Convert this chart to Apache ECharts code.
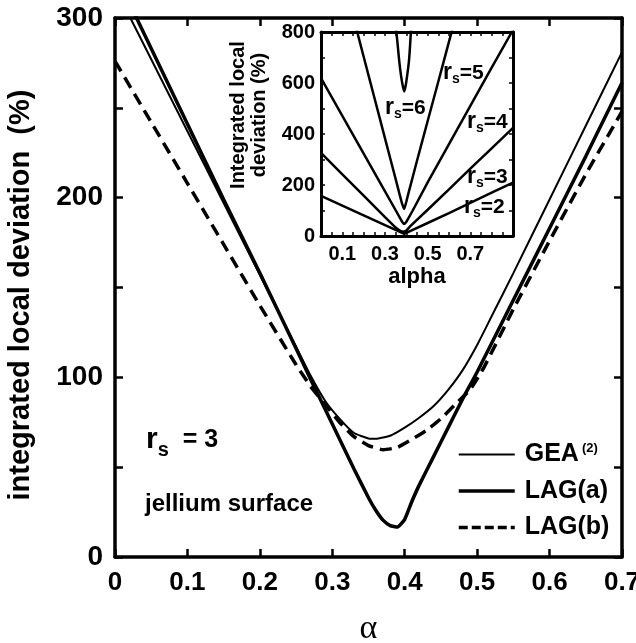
<!DOCTYPE html>
<html>
<head>
<meta charset="utf-8">
<script src="https://cdn.jsdelivr.net/npm/echarts@6/dist/echarts.min.js"></script>
<style>
html,body{margin:0;padding:0;background:#fff;}
#chart{width:636px;height:643px;}
</style>
</head>
<body>
<div id="chart"></div>
<script>
// ---- main panel data (alpha vs integrated local deviation, %) ----
const alphaGEA = [0, 0.05, 0.1, 0.15, 0.2, 0.25, 0.27, 0.29, 0.31, 0.33, 0.35, 0.36, 0.38, 0.40, 0.42, 0.44, 0.46, 0.48, 0.50, 0.52, 0.55, 0.60, 0.65, 0.70];
const valGEA   = [317, 277, 237, 197, 157, 117, 101, 87, 77, 69, 66, 65.8, 67.5, 72, 77.5, 84, 93, 104, 118, 134, 158, 199, 240, 281];

const alphaLAGa = [0, 0.05, 0.1, 0.15, 0.2, 0.25, 0.27, 0.30, 0.33, 0.35, 0.36, 0.37, 0.38, 0.39, 0.40, 0.41, 0.42, 0.44, 0.46, 0.48, 0.50, 0.55, 0.60, 0.65, 0.70];
const valLAGa   = [325, 283, 241, 199, 158, 116, 99, 74, 49, 33, 26, 20.5, 17.5, 16.7, 21, 31, 40, 56, 72, 88, 103, 143, 183, 223, 264];

const alphaLAGb = [0, 0.05, 0.1, 0.15, 0.2, 0.25, 0.27, 0.29, 0.31, 0.33, 0.35, 0.37, 0.39, 0.41, 0.43, 0.45, 0.47, 0.49, 0.51, 0.55, 0.60, 0.65, 0.70];
const valLAGb   = [276, 242, 208, 174, 140, 107, 95, 85, 75, 67, 62, 59.7, 61, 65.5, 70.5, 77, 85, 93, 106, 138, 176, 213, 248];

const seriesNames = ['GEA(2)', 'LAG(a)', 'LAG(b)'];

// ---- inset data (alpha vs integrated local deviation, %) for r_s = 2..6 ----
const alphaRs2 = [0, 0.1, 0.2, 0.3, 0.36, 0.38, 0.39, 0.40, 0.42, 0.5, 0.6, 0.7, 0.8, 0.9];
const valRs2   = [157, 119, 81, 43, 20, 12, 9, 12, 20, 51, 90, 130, 170, 209];
const alphaRs3 = [0, 0.1, 0.2, 0.3, 0.35, 0.37, 0.38, 0.39, 0.40, 0.42, 0.5, 0.6, 0.7, 0.8, 0.9];
const valRs3   = [326, 242, 158, 74, 33, 21, 17.5, 17, 21, 40, 103, 183, 264, 344, 424];
const alphaRs4 = [0, 0.1, 0.2, 0.3, 0.35, 0.37, 0.38, 0.39, 0.40, 0.41, 0.43, 0.5, 0.6, 0.7, 0.8, 0.9];
const valRs4   = [619, 471, 323, 175, 101, 71, 56, 46, 55, 70, 100, 210, 360, 510, 660, 808];
const alphaRs5 = [0.15, 0.171, 0.2, 0.25, 0.3, 0.35, 0.37, 0.38, 0.39, 0.40, 0.41, 0.45, 0.5, 0.55, 0.6, 0.63];
const valRs5   = [865, 796, 703, 543, 383, 223, 158, 127, 106, 135, 168, 295, 451, 606, 762, 855];
const alphaRs6 = [0.345, 0.354, 0.36, 0.367, 0.375, 0.383, 0.39, 0.397, 0.404, 0.412, 0.417, 0.421, 0.428];
const valRs6   = [880, 796, 745, 684, 630, 590, 567, 590, 630, 684, 740, 796, 880];

// tick labels
const mainXLabels = ['0', '0.1', '0.2', '0.3', '0.4', '0.5', '0.6', '0.7'];
const mainYLabels = ['0', '100', '200', '300'];
const insetXLabels = ['0.1', '0.3', '0.5', '0.7'];
const insetYLabels = ['0', '200', '400', '600', '800'];

const zip = (xs, ys) => xs.map((x, i) => [x, ys[i]]);
const FONT = '"Liberation Sans", Arial, Helvetica, sans-serif';

const chart = echarts.init(document.getElementById('chart'), null, {renderer: 'canvas'});

function frameAxis(base) {
  return Object.assign({
    type: 'value',
    axisLine: {show: true, onZero: false, lineStyle: {color: '#000', width: 3.5}},
    axisTick: {show: true, inside: true, length: 8, lineStyle: {color: '#000', width: 2.5}},
    splitLine: {show: false},
  }, base);
}

function rsLabel(x, y, n, rSize, sSize, tSize, sDrop) {
  const rW = rSize * 0.389, sW = sSize * 0.556;
  return [
    {type: 'text', x: x, y: y, style: {text: 'r', fontSize: rSize, fontWeight: 'bold', fontFamily: FONT, fill: '#000', verticalAlign: 'middle'}},
    {type: 'text', x: x + rW, y: y + sDrop, style: {text: 's', fontSize: sSize, fontWeight: 'bold', fontFamily: FONT, fill: '#000', verticalAlign: 'middle'}},
    {type: 'text', x: x + rW + sW, y: y, style: {text: n, fontSize: tSize, fontWeight: 'bold', fontFamily: FONT, fill: '#000', verticalAlign: 'middle'}}
  ];
}

const insetLine = {color: '#000', width: 2.5};

const option = {
  animation: false,
  backgroundColor: '#fff',
  color: ['#000'],
  grid: [
    {left: 115, right: 14, top: 18, bottom: 86, outerBoundsMode: 'none', containLabel: false},
    {left: 321, top: 32, width: 192, height: 204, outerBoundsMode: 'none', containLabel: false}
  ],
  xAxis: [
    frameAxis({gridIndex: 0, position: 'bottom', min: 0, max: 0.7, interval: 0.1,
      name: 'α', nameLocation: 'middle', nameGap: 55,
      nameTextStyle: {fontFamily: '"Liberation Serif", "DejaVu Serif", serif', fontSize: 34, color: '#000'},
      axisLabel: {show: true, margin: 13, color: '#000', fontSize: 26, fontWeight: 'bold', fontFamily: FONT,
        formatter: v => mainXLabels[Math.round(v * 10)] || ''}}),
    frameAxis({gridIndex: 0, position: 'top', min: 0, max: 0.7, interval: 0.1, axisLabel: {show: false}}),
    frameAxis({gridIndex: 1, position: 'bottom', min: 0, max: 0.9, interval: 0.05,
      axisLine: {show: true, onZero: false, lineStyle: {color: '#000', width: 3}},
      axisTick: {show: true, inside: true, length: 4, lineStyle: {color: '#000', width: 1.5}},
      name: 'alpha', nameLocation: 'middle', nameGap: 30,
      nameTextStyle: {fontFamily: FONT, fontSize: 22, fontWeight: 'bold', color: '#000'},
      axisLabel: {show: true, margin: 8, color: '#000', fontSize: 20, fontWeight: 'bold', fontFamily: FONT,
        formatter: v => { const k = Math.round(v * 100); const i = [10, 30, 50, 70].indexOf(k); return i >= 0 ? insetXLabels[i] : ''; }}}),
    frameAxis({gridIndex: 1, position: 'top', min: 0, max: 0.9, interval: 0.05,
      axisLine: {show: true, onZero: false, lineStyle: {color: '#000', width: 3}},
      axisTick: {show: true, inside: true, length: 4, lineStyle: {color: '#000', width: 1.5}},
      axisLabel: {show: false}})
  ],
  yAxis: [
    frameAxis({gridIndex: 0, position: 'left', min: 0, max: 300, interval: 50,
      axisLabel: {show: true, margin: 12, color: '#000', fontSize: 28, fontWeight: 'bold', fontFamily: FONT,
        formatter: v => (v % 100 === 0 ? mainYLabels[v / 100] : '')}}),
    frameAxis({gridIndex: 0, position: 'right', min: 0, max: 300, interval: 50, axisLabel: {show: false}}),
    frameAxis({gridIndex: 1, position: 'left', min: 0, max: 800, interval: 100,
      axisLine: {show: true, onZero: false, lineStyle: {color: '#000', width: 3}},
      axisTick: {show: true, inside: true, length: 4, lineStyle: {color: '#000', width: 1.5}},
      axisLabel: {show: true, margin: 6, color: '#000', fontSize: 20, fontWeight: 'bold', fontFamily: FONT,
        formatter: v => (v % 200 === 0 ? insetYLabels[v / 200] : '')}}),
    frameAxis({gridIndex: 1, position: 'right', min: 0, max: 800, interval: 100,
      axisLine: {show: true, onZero: false, lineStyle: {color: '#000', width: 3}},
      axisTick: {show: true, inside: true, length: 4, lineStyle: {color: '#000', width: 1.5}},
      axisLabel: {show: false}})
  ],
  legend: {
    data: [
      {name: seriesNames[0], itemStyle: {opacity: 0}, lineStyle: {color: '#000', width: 2}},
      {name: seriesNames[1], itemStyle: {opacity: 0}, lineStyle: {color: '#000', width: 3.5}},
      {name: seriesNames[2], itemStyle: {opacity: 0}, lineStyle: {color: '#000', width: 3.5, type: [9, 4]}}
    ],
    orient: 'vertical',
    left: 457, top: 442,
    padding: 0,
    itemWidth: 56, itemHeight: 14, itemGap: 11.5,
    itemStyle: {opacity: 0},
    selectedMode: false,
    formatter: name => (name === 'GEA(2)' ? 'GEA{sup|(2)}' : name),
    textStyle: {
      fontSize: 25, fontWeight: 'bold', fontFamily: FONT, color: '#000', lineHeight: 25, padding: [0, 0, 0, 5],
      rich: {sup: {fontSize: 13, fontWeight: 'bold', fontFamily: FONT, color: '#000', verticalAlign: 'top', lineHeight: 13, padding: [0, 0, 0, 3]}}
    }
  },
  series: [
    {name: seriesNames[0], type: 'line', xAxisIndex: 0, yAxisIndex: 0, data: zip(alphaGEA, valGEA),
      showSymbol: false, symbol: 'none', smooth: 0.15, itemStyle: {color: '#000'}, lineStyle: {color: '#000', width: 2}},
    {name: seriesNames[1], type: 'line', xAxisIndex: 0, yAxisIndex: 0, data: zip(alphaLAGa, valLAGa),
      showSymbol: false, symbol: 'none', smooth: 0.15, itemStyle: {color: '#000'}, lineStyle: {color: '#000', width: 3.5}},
    {name: seriesNames[2], type: 'line', xAxisIndex: 0, yAxisIndex: 0, data: zip(alphaLAGb, valLAGb),
      showSymbol: false, symbol: 'none', smooth: 0.15, itemStyle: {color: '#000'}, lineStyle: {color: '#000', width: 3.5, type: [12, 7]}},
    {name: 'rs2', type: 'line', xAxisIndex: 2, yAxisIndex: 2, data: zip(alphaRs2, valRs2), symbol: 'none', lineStyle: insetLine},
    {name: 'rs3', type: 'line', xAxisIndex: 2, yAxisIndex: 2, data: zip(alphaRs3, valRs3), symbol: 'none', lineStyle: insetLine},
    {name: 'rs4', type: 'line', xAxisIndex: 2, yAxisIndex: 2, data: zip(alphaRs4, valRs4), symbol: 'none', lineStyle: insetLine},
    {name: 'rs5', type: 'line', xAxisIndex: 2, yAxisIndex: 2, data: zip(alphaRs5, valRs5), symbol: 'none', smooth: 0.15, lineStyle: insetLine},
    {name: 'rs6', type: 'line', xAxisIndex: 2, yAxisIndex: 2, data: zip(alphaRs6, valRs6), symbol: 'none', smooth: 0.2, lineStyle: insetLine}
  ],
  graphic: [
    {type: 'text', x: 21, y: 295, rotation: Math.PI / 2,
      style: {text: 'integrated local deviation  (%)', fontSize: 29, fontWeight: 'bold', fontFamily: FONT, fill: '#000', align: 'center', verticalAlign: 'middle'}},
    {type: 'text', x: 249, y: 115, rotation: Math.PI / 2,
      style: {text: 'Integrated local\ndeviation (%)', fontSize: 20, lineHeight: 21, fontWeight: 'bold', fontFamily: FONT, fill: '#000', align: 'center', verticalAlign: 'middle'}},
    {type: 'text', x: 145, y: 504, style: {text: 'jellium surface', fontSize: 24, fontWeight: 'bold', fontFamily: FONT, fill: '#000', verticalAlign: 'middle'}}
  ]
    .concat(rsLabel(146, 440, '  = 3', 30, 20, 25, 10))
    .concat(rsLabel(385, 108, '=6', 23, 14, 21, 6))
    .concat(rsLabel(443, 73, '=5', 23, 14, 21, 6))
    .concat(rsLabel(467, 122, '=4', 23, 14, 21, 6))
    .concat(rsLabel(467, 177, '=3', 23, 14, 21, 6))
    .concat(rsLabel(464, 207, '=2', 23, 14, 21, 6))
};

chart.setOption(option);
</script>
</body>
</html>
